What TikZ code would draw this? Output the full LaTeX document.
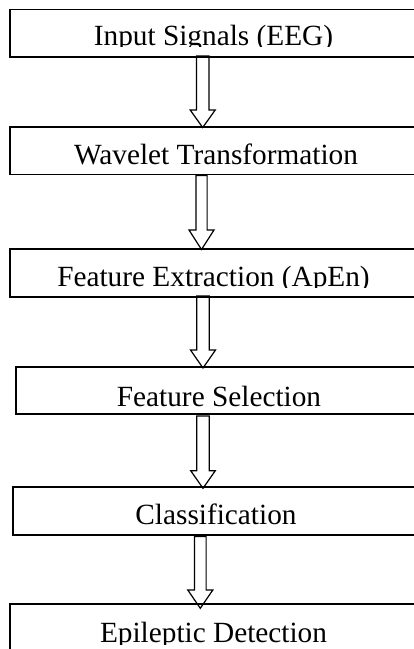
\documentclass[tikz,border=0pt]{standalone}
\usepackage{fontspec}
\setmainfont{Liberation Serif}
\tikzset{
  box/.style={draw, line width=1.5pt, rectangle, inner sep=0pt, anchor=north west, minimum width=416pt},
  lbl/.style={anchor=base, inner sep=0pt, font=\fontsize{29.3}{34}\selectfont},
  barrow/.style={draw, fill=white, line width=1.2pt, line join=miter}
}
% name, centre x, top y, head base y, tip y, half shaft, half head
\newcommand\blockarr[7]{%
  \coordinate (#1) at (#2,#5);
  \draw[barrow] ({#2-#6},#3) -- ({#2-#6},#4) -- ({#2-#7},#4) -- (#1)
     -- ({#2+#7},#4) -- ({#2+#6},#4) -- ({#2+#6},#3) -- cycle;}
\begin{document}
\begin{tikzpicture}[x=1pt,y=-1pt]
\useasboundingbox (0,0) rectangle (414,649);
% arrows (drawn first)
\blockarr{a1}{202.7}{56}{110}{127.5}{6.3}{12.5}
\blockarr{a2}{201.5}{175.5}{230}{249.5}{5.6}{12.5}
\blockarr{a3}{203}{296}{350}{368}{6.3}{12.5}
\blockarr{a4}{203}{416}{470.7}{488.3}{6.3}{12.3}
\blockarr{a5}{200.3}{536.5}{590}{608.3}{5.8}{12.5}
% boxes
\node[box, minimum height=47.5pt] (b1) at (9,8.5) {};
\node[box, minimum height=47.5pt] (b2) at (9,126) {};
\node[box, minimum height=48pt]   (b3) at (9,248) {};
\node[box, minimum height=47pt]   (b4) at (15,366) {};
\node[box, minimum height=48pt]   (b5) at (12,486) {};
\node[box, minimum height=60pt]   (b6) at (9,603) {};
% labels, clipped at the bottom as in the reference
\begin{scope}\clip (b1.north west) rectangle (430,46.5);
\node[lbl] (t1) at (213.5,45) {Input Signals (EEG)};\end{scope}
\begin{scope}\clip (b2.north west) rectangle (430,166);
\node[lbl] (t2) at (216,164) {Wavelet Transformation};\end{scope}
\begin{scope}\clip (b3.north west) rectangle (430,287.5);
\node[lbl] (t3) at (213.5,286) {Feature Extraction (ApEn)};\end{scope}
\begin{scope}\clip (b4.north west) rectangle (430,408);
\node[lbl] (t4) at (219,406) {Feature Selection};\end{scope}
\begin{scope}\clip (b5.north west) rectangle (430,526);
\node[lbl] (t5) at (216,524) {Classification};\end{scope}
\begin{scope}\clip (b6.north west) rectangle (430,644);
\node[lbl] (t6) at (213.5,642.5) {Epileptic Detection};\end{scope}
\end{tikzpicture}
\end{document}
